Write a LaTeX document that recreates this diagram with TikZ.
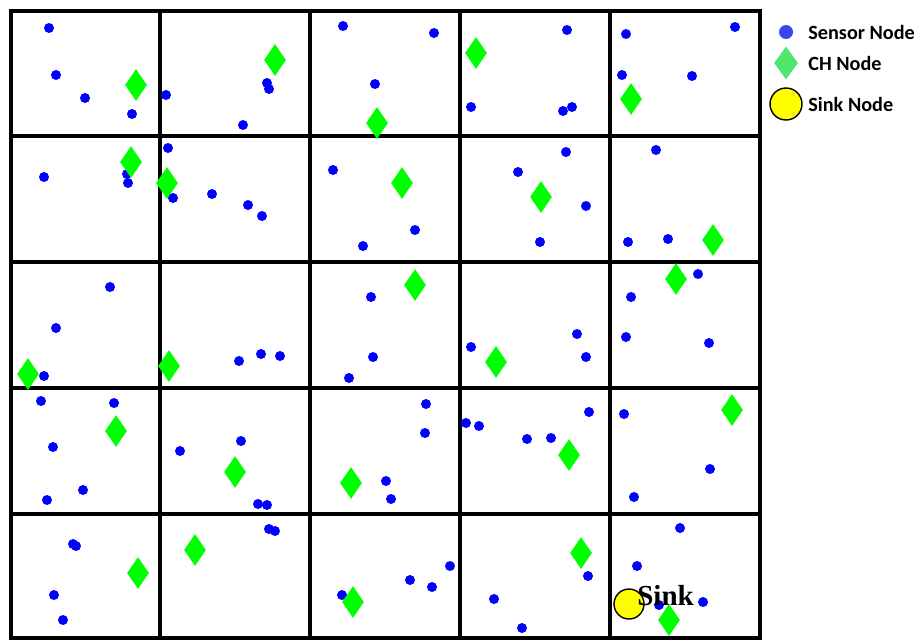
\documentclass[tikz,border=0pt]{standalone}
\usepackage{fontspec}
\setsansfont{Carlito}
\setmainfont{Liberation Serif}
\definecolor{SNBlue}{RGB}{0,0,255}
\definecolor{CHGreen}{RGB}{0,255,0}
\definecolor{KeyBlue}{RGB}{60,70,240}
\definecolor{KeyGreen}{RGB}{80,230,110}
\definecolor{SinkYellow}{RGB}{255,255,0}
\usetikzlibrary{shapes.geometric, positioning}

\begin{document}
\begin{tikzpicture}[x=0.02cm, y=-0.02cm,
        gridline/.style={draw=black, line width=2.2pt},
        sensor/.style={circle, fill=SNBlue, inner sep=0pt, minimum size=0.2cm},
        head/.style={diamond, fill=CHGreen, inner sep=0pt,
                     minimum width=0.44cm, minimum height=0.64cm},
        sinknode/.style={circle, draw=black, line width=0.8pt, fill=SinkYellow,
                         inner sep=0pt, minimum size=0.6cm},
        keytext/.style={anchor=west, inner sep=0pt,
                        font=\sffamily\bfseries\fontsize{11.5}{13}\selectfont}
      ]
        \useasboundingbox (0,0) rectangle (918,640);

        % field grid
        \draw[gridline] (11,11) rectangle (760,638);
        \foreach \gx in {160,310,460,610}
          \draw[gridline] (\gx,11) -- (\gx,638);
        \foreach \gy in {136,262,388,514}
          \draw[gridline] (11,\gy) -- (760,\gy);

        % sensor nodes
        \foreach \p [count=\i] in {(49,28),(56,75),(85,98),(132,114),
            (166,95),(267,83),(269,89),(243,125),(343,26),(434,33),(375,84),
            (567,30),(471,107),(563,111),(572,107),(626,34),(735,27),(622,75),(692,76),
            (44,177),(127,174),(128,183),(168,148),(173,198),(212,194),(248,205),(262,216),
            (333,170),(415,230),(363,246),(518,172),(566,152),(586,206),(540,242),
            (656,150),(628,242),(668,239),
            (110,287),(56,328),(44,376),(239,361),(261,354),(280,356),
            (371,297),(373,357),(349,378),(471,347),(577,334),(586,357),
            (698,274),(631,297),(626,337),(709,343),
            (41,401),(114,403),(53,447),(83,490),(47,500),
            (180,451),(241,441),(258,504),(267,505),
            (426,404),(425,433),(386,481),(391,499),
            (466,423),(479,426),(527,439),(551,438),(589,412),
            (624,414),(710,469),(634,497),
            (73,544),(76,546),(54,595),(63,620),(269,529),(275,531),
            (342,595),(410,580),(432,587),(450,566),
            (588,576),(494,599),(522,628),
            (680,528),(637,566),(659,605),(703,602)}
          \node[sensor] (s-\i) at \p {};

        % cluster heads
        \foreach \p [count=\i] in {(136,85),(275,60),(377,123),(476,53),(631,99),
            (131,162),(167,183),(402,183),(541,197),(713,240),
            (28,374),(169,366),(415,285),(496,362),(676,279),
            (116,431),(235,472),(351,483),(569,455),(732,410),
            (138,573),(195,550),(353,602),(581,553),(669,620)}
          \node[head] (ch-\i) at \p {};

        % sink
        \node[sinknode] (sink) at (629,604) {};
        \node[anchor=base west, inner sep=0pt,
              font=\rmfamily\bfseries\fontsize{16.5}{18}\selectfont]
          (sinklabel) at (637,605) {Sink};

        % legend
        \node[sensor, fill=KeyBlue, minimum size=0.28cm] (keysensor) at (786,32) {};
        \node[head, fill=KeyGreen, minimum width=0.48cm, minimum height=0.66cm]
          (keyhead) at (786,63) {};
        \node[sinknode, minimum size=0.64cm] (keysink) at (786,104) {};
        \node[keytext] (keysensortext) at (808,32) {Sensor Node};
        \node[keytext] (keyheadtext) at (808,63) {CH Node};
        \node[keytext] (keysinktext) at (808,104) {Sink Node};
      \end{tikzpicture}
\end{document}
